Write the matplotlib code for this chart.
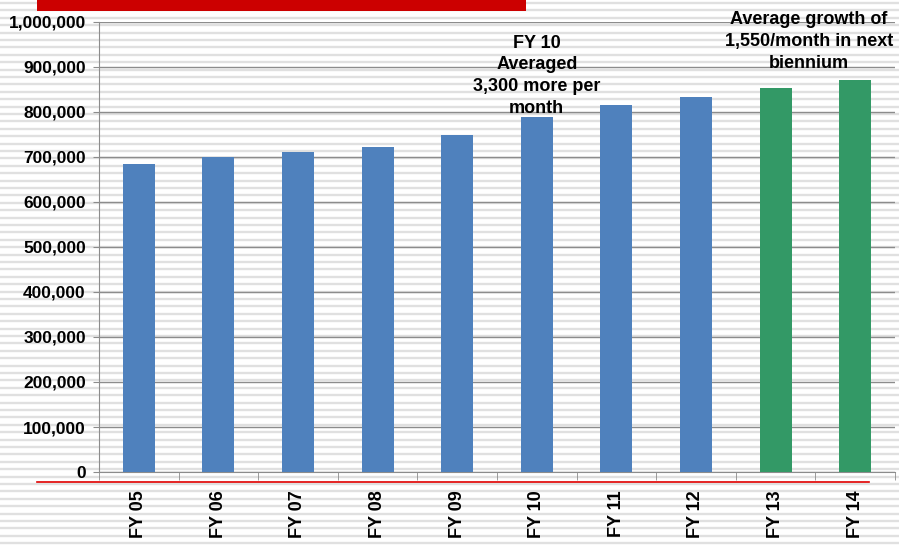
import matplotlib
matplotlib.use("Agg")
import matplotlib.pyplot as plt
from matplotlib.patches import Rectangle
from matplotlib.lines import Line2D
from matplotlib.ticker import FuncFormatter
import numpy as np

years = ["FY 05", "FY 06", "FY 07", "FY 08", "FY 09", "FY 10", "FY 11", "FY 12", "FY 13", "FY 14"]
enrollment = [684000, 700000, 711000, 722000, 749000, 789000, 815000, 833000, 853000, 871000]
projected = [False] * 8 + [True] * 2

note_fy10 = "FY 10\nAveraged\n3,300 more per\nmonth"
note_growth = "Average growth of\n1,550/month in next\nbiennium"

plt.rcParams["font.family"] = ["Liberation Sans", "DejaVu Sans"]
plt.rcParams["font.weight"] = "bold"

W, H = 899, 548
fig = plt.figure(figsize=(W / 100, H / 100), dpi=100)

# striped slide background
bg = fig.add_axes([0, 0, 1, 1])
bg.set_xlim(0, W)
bg.set_ylim(H, 0)
bg.axis("off")
for y in np.arange(3, H, 7.4):
    bg.axhline(y, color="#e0e0e0", lw=1.7)

ax = fig.add_axes([99 / W, 1 - 472 / H, 796 / W, 450 / H])
ax.set_facecolor("none")
colors = ["#339966" if p else "#4f81bd" for p in projected]
x = np.arange(len(years))
ax.bar(x, enrollment, width=0.4, color=colors, zorder=3)

ax.set_xlim(-0.5, len(years) - 0.5)
ax.set_ylim(0, 1000000)
ax.set_yticks(np.arange(0, 1000001, 100000))
ax.yaxis.set_major_formatter(FuncFormatter(lambda v, p: f"{int(v):,}"))
ax.grid(axis="y", color="#8c8c8c", lw=1, zorder=1)
ax.set_axisbelow(True)

ax.set_xticks(x)
ax.set_xticklabels(years, rotation=90, fontsize=13, fontweight="bold")
ax.set_xticks(np.arange(-0.5, len(years)), minor=True)
ax.tick_params(axis="x", which="major", length=0, pad=13)
ax.tick_params(axis="x", which="minor", length=6, color="#8c8c8c", direction="out")
ax.tick_params(axis="y", length=4, color="#8c8c8c", labelsize=12.5, pad=5.5)
for lab in ax.get_yticklabels():
    lab.set_fontweight("bold")

for s in ["top", "right"]:
    ax.spines[s].set_visible(False)
ax.spines["left"].set_color("#8c8c8c")
ax.spines["bottom"].set_color("#8c8c8c")

ax.text(5.0, 972000, note_fy10, ha="center", va="top",
        fontsize=13, fontweight="bold", linespacing=1.36, zorder=5)
ax.text(8.42, 1024000, note_growth, ha="center", va="top",
        fontsize=13, fontweight="bold", linespacing=1.36, zorder=5, clip_on=False)

# red title bar and red rule
fig.add_artist(Rectangle((37 / W, 1 - 11 / H), 489 / W, 11 / H,
                         transform=fig.transFigure, color="#cc0000", lw=0))
fig.add_artist(Line2D([37 / W, 869 / W], [1 - 482 / H] * 2,
                      transform=fig.transFigure, color="#e00000", lw=1.2))

fig.savefig("out.png", dpi=100)
